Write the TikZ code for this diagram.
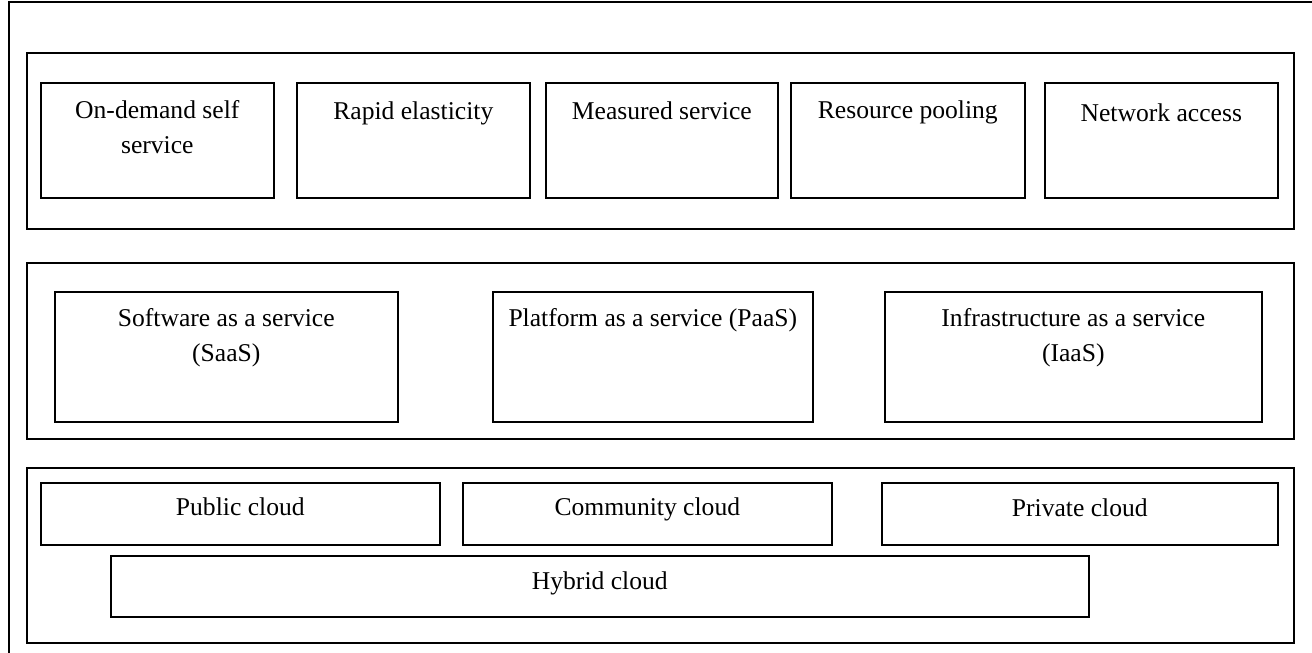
\documentclass[tikz,border=0pt]{standalone}
\usepackage{fontspec}
\setmainfont{Liberation Serif}
\begin{document}
\begin{tikzpicture}[x=1pt,y=-1pt,
  frameline/.style={line width=1.5pt},
  panel/.style={draw,line width=1.5pt,rectangle,inner sep=0pt,anchor=north west},
  box/.style={draw,line width=1.6pt,rectangle,inner sep=0pt,anchor=north west},
  lbl/.style={inner sep=0pt,anchor=base,align=center,font=\fontsize{25.6}{35}\selectfont}]
\useasboundingbox (0,0) rectangle (1312,653);
% outer frame (runs off the right and bottom edges)
\coordinate (fb) at (9,660);
\coordinate (ftl) at (9,2);
\coordinate (fr) at (1320,2);
\draw[frameline] (fb) -- (ftl) -- (fr);
% panels
\node[panel,minimum width=1267pt,minimum height=176pt] (p1) at (26,52) {};
\node[panel,minimum width=1267pt,minimum height=176pt] (p2) at (26,262) {};
\node[panel,minimum width=1267pt,minimum height=175pt] (p3) at (26,467) {};
% row 1
\node[box,minimum width=233pt,minimum height=115pt] (a1) at (40,82) {};
\node[box,minimum width=233pt,minimum height=115pt] (a2) at (296,82) {};
\node[box,minimum width=232pt,minimum height=115pt] (a3) at (545,82) {};
\node[box,minimum width=234pt,minimum height=115pt] (a4) at (790,82) {};
\node[box,minimum width=233pt,minimum height=115pt] (a5) at (1044,82) {};
\node[lbl] (ta1) at ([yshift=-71pt]a1.north) {On-demand self\\service};
\node[lbl] (ta2) at ([yshift=-37pt]a2.north) {Rapid elasticity};
\node[lbl] (ta3) at ([yshift=-37pt]a3.north) {Measured service};
\node[lbl] (ta4) at ([yshift=-36pt]a4.north) {Resource pooling};
\node[lbl] (ta5) at ([yshift=-39pt]a5.north) {Network access};
% row 2
\node[box,minimum width=343pt,minimum height=130pt] (s1) at (54,291) {};
\node[box,minimum width=320pt,minimum height=130pt] (s2) at (492,291) {};
\node[box,minimum width=377pt,minimum height=130pt] (s3) at (884,291) {};
\node[lbl] (ts1) at ([yshift=-70pt]s1.north) {Software as a service\\(SaaS)};
\node[lbl] (ts2) at ([yshift=-35pt]s2.north) {Platform as a service (PaaS)};
\node[lbl] (ts3) at ([yshift=-70pt]s3.north) {Infrastructure as a service\\(IaaS)};
% row 3
\node[box,minimum width=399pt,minimum height=62pt] (c1) at (40,482) {};
\node[box,minimum width=369pt,minimum height=62pt] (c2) at (462,482) {};
\node[box,minimum width=396pt,minimum height=62pt] (c3) at (881,482) {};
\node[box,minimum width=978pt,minimum height=61pt] (c4) at (110,555) {};
\node[lbl] (tc1) at ([yshift=-33pt]c1.north) {Public cloud};
\node[lbl] (tc2) at ([yshift=-33pt]c2.north) {Community cloud};
\node[lbl] (tc3) at ([yshift=-34pt]c3.north) {Private cloud};
\node[lbl] (tc4) at ([yshift=-34pt]c4.north) {Hybrid cloud};
\end{tikzpicture}
\end{document}
